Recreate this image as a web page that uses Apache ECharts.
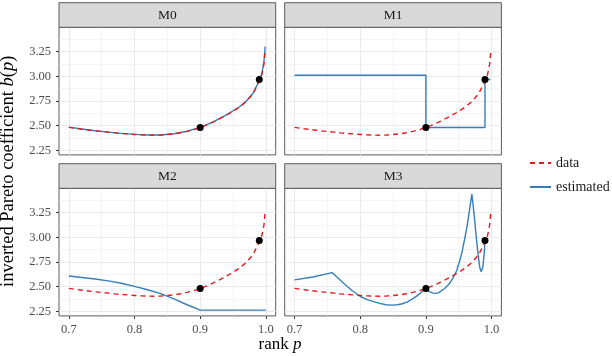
<!DOCTYPE html>
<html><head><meta charset="utf-8">
<script src="https://cdn.jsdelivr.net/npm/echarts@6/dist/echarts.min.js"></script>
<style>html,body{margin:0;padding:0;background:#fff}#c{width:612px;height:356px}</style>
</head><body><div id="c"></div>
<script>
// ---- data ----
const panels = ['M0', 'M1', 'M2', 'M3'];
const xTicks = [0.7, 0.8, 0.9, 1.0];
const xMinor = [0.75, 0.85, 0.95];
const yTicks = [2.25, 2.5, 2.75, 3.0, 3.25];
const yMinor = [2.375, 2.625, 2.875, 3.125, 3.375];

const dataP = [0.70,0.71,0.72,0.73,0.74,0.75,0.76,0.77,0.78,0.79,0.80,0.81,0.82,0.83,0.84,0.85,0.86,0.87,0.88,0.89,0.90,0.91,0.92,0.93,0.94,0.95,0.96,0.97,0.98,0.99,0.994,0.997,0.999];
const dataB = [2.483,2.474,2.465,2.457,2.449,2.442,2.435,2.428,2.422,2.417,2.412,2.408,2.405,2.404,2.406,2.411,2.418,2.429,2.443,2.460,2.482,2.508,2.538,2.572,2.607,2.645,2.690,2.745,2.820,2.950,3.020,3.120,3.260];

const m0P = [0.70,0.72,0.74,0.76,0.78,0.80,0.82,0.84,0.86,0.88,0.90,0.92,0.94,0.96,0.97,0.98,0.99,0.994,0.997,0.999];
const m0B = [2.486,2.467,2.450,2.436,2.423,2.413,2.406,2.406,2.419,2.444,2.484,2.540,2.609,2.692,2.747,2.823,2.955,3.030,3.140,3.300];

const m1P = [0.70, 0.90, 0.90, 0.99, 0.99, 0.998];
const m1B = [3.010, 3.010, 2.482, 2.482, 2.967, 2.967];

const m2P = [0.70,0.72,0.74,0.76,0.78,0.80,0.82,0.84,0.86,0.88,0.90,1.00];
const m2B = [2.609,2.594,2.578,2.559,2.535,2.504,2.470,2.430,2.377,2.318,2.264,2.264];

const m3P = [0.700,0.728,0.757,0.765,0.773,0.780,0.788,0.801,0.810,0.819,0.830,0.839,0.849,0.857,0.864,0.872,0.879,0.887,0.894,0.900,0.904,0.907,0.911,0.915,0.919,0.922,0.928,0.935,0.941,0.947,0.951,0.955,0.959,0.963,0.967,0.970,0.972,0.974,0.976,0.978,0.980,0.982,0.984,0.986,0.987,0.989,0.990];
const m3B = [2.569,2.599,2.643,2.595,2.545,2.505,2.460,2.399,2.372,2.352,2.332,2.318,2.314,2.318,2.328,2.348,2.375,2.410,2.450,2.477,2.455,2.443,2.436,2.433,2.438,2.450,2.480,2.525,2.585,2.664,2.750,2.850,2.980,3.121,3.300,3.436,3.320,3.190,3.050,2.918,2.800,2.697,2.653,2.680,2.714,2.850,2.967];

const pointP = [0.90, 0.99];
const pointB = [2.482, 2.967];

const estP = [m0P, m1P, m2P, m3P];
const estB = [m0B, m1B, m2B, m3B];

// ---- layout ----
const FONT = 'Liberation Serif';
const lefts = [59, 284.7, 59, 284.7];
const tops = [27.3, 27.3, 188.3, 188.3];
const PW = 216.7, PH = 127.6, SH = 24.6;
const XMIN = 0.685, XMAX = 1.015, YMIN = 2.2054, YMAX = 3.4946;

const zip = (a, b) => a.map((v, i) => [v, b[i]]);

const grid = [], xAxis = [], yAxis = [], series = [], graphic = [];
panels.forEach((name, i) => {
  grid.push({left: lefts[i], top: tops[i], width: PW, height: PH, show: true,
    backgroundColor: '#fff', borderColor: '#5a5a5a', borderWidth: 1, containLabel: false});
  const bottomRow = i >= 2, leftCol = i % 2 === 0;
  xAxis.push({gridIndex: i, type: 'value', min: XMIN, max: XMAX,
    axisLine: {show: false},
    axisTick: {show: bottomRow, customValues: xTicks, length: 3, lineStyle: {color: '#333', width: 1}},
    axisLabel: {show: bottomRow, customValues: xTicks, margin: 7, color: '#4D4D4D', fontFamily: FONT, fontSize: 12.5,
      formatter: v => v.toFixed(1)},
    splitLine: {show: true, lineStyle: {color: '#EBEBEB', width: 1.1}}});
  yAxis.push({gridIndex: i, type: 'value', min: YMIN, max: YMAX,
    axisLine: {show: false},
    axisTick: {show: leftCol, customValues: yTicks, length: 3, lineStyle: {color: '#333', width: 1}},
    axisLabel: {show: leftCol, customValues: yTicks, margin: 8, color: '#4D4D4D', fontFamily: FONT, fontSize: 12.5,
      formatter: v => v.toFixed(2)},
    splitLine: {show: true, lineStyle: {color: '#EBEBEB', width: 1.1}}});
  graphic.push({type: 'rect', shape: {x: lefts[i], y: tops[i] - SH, width: PW, height: SH},
    style: {fill: '#D9D9D9', stroke: '#5a5a5a', lineWidth: 1}, z: 10});
  graphic.push({type: 'text', x: lefts[i] + PW / 2, y: tops[i] - SH / 2 + 0.5,
    style: {text: name, fill: '#1A1A1A', font: '13.5px "' + FONT + '"', align: 'center', verticalAlign: 'middle'}, z: 11});
});
// minor grid axes
panels.forEach((name, i) => {
  xAxis.push({gridIndex: i, type: 'value', min: XMIN, max: XMAX, position: 'bottom',
    axisLine: {show: false}, axisTick: {show: false, customValues: xMinor}, axisLabel: {show: false, customValues: xMinor},
    splitLine: {show: true, lineStyle: {color: '#EBEBEB', width: 0.55}}});
  yAxis.push({gridIndex: i, type: 'value', min: YMIN, max: YMAX, position: 'left',
    axisLine: {show: false}, axisTick: {show: false, customValues: yMinor}, axisLabel: {show: false, customValues: yMinor},
    splitLine: {show: true, lineStyle: {color: '#EBEBEB', width: 0.55}}});
});

panels.forEach((name, i) => {
  series.push({name: 'estimated', type: 'line', xAxisIndex: i, yAxisIndex: i, symbol: 'none',
    data: zip(estP[i], estB[i]), lineStyle: {color: '#377EB8', width: 1.4}, itemStyle: {color: '#377EB8'}, z: 3});
  series.push({name: 'data', type: 'line', xAxisIndex: i, yAxisIndex: i, symbol: 'none',
    data: zip(dataP, dataB), lineStyle: {color: '#E41A1C', width: 1.4, type: [5, 4]}, itemStyle: {color: '#E41A1C'}, z: 4});
  series.push({name: 'obs', type: 'scatter', xAxisIndex: i, yAxisIndex: i, symbolSize: 7,
    data: zip(pointP, pointB), itemStyle: {color: '#000', opacity: 1}, z: 5});
});

graphic.push({type: 'text', x: 280, y: 345,
  style: {text: 'rank {it|p}', fill: '#000', font: '17px "' + FONT + '"', align: 'center', verticalAlign: 'middle',
    rich: {it: {fontStyle: 'italic', fontFamily: FONT, fontSize: 17}}}});
graphic.push({type: 'text', x: 8.5, y: 171.3, rotation: Math.PI / 2,
  style: {text: 'inverted Pareto coefficient {it|b}(' + '{it|p})', fill: '#000', font: '18.5px "' + FONT + '"',
    align: 'center', verticalAlign: 'middle',
    rich: {it: {fontStyle: 'italic', fontFamily: FONT, fontSize: 18.5}}}});

const chart = echarts.init(document.getElementById('c'), null, {renderer: 'canvas'});
chart.setOption({
  animation: false,
  backgroundColor: '#fff',
  grid, xAxis, yAxis, series, graphic,
  legend: {data: ['data', 'estimated'], orient: 'vertical', left: 524, top: 151,
    itemWidth: 21, itemHeight: 14, itemGap: 10, itemStyle: {opacity: 0},
    textStyle: {fontFamily: FONT, fontSize: 14, color: '#1A1A1A'}}
});
</script></body></html>
